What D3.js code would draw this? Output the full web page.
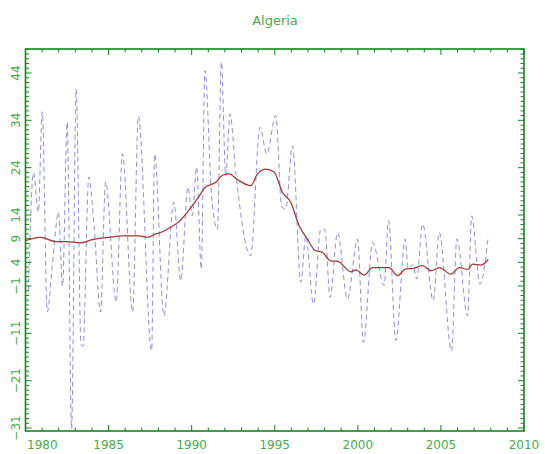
<!DOCTYPE html>
<html>
<head>
<meta charset="utf-8">
<script src="https://cdn.jsdelivr.net/npm/d3@7"></script>
<style>
  body { margin: 0; background: #fff; }
  svg { display: block; font-family: "DejaVu Sans", sans-serif; }
</style>
</head>
<body>
<svg id="chart" width="545" height="454"></svg>
<script>
const TITLE = "Algeria";

// blue dashed series (turning points)
const monthlyYears = [1980.18, 1980.48, 1980.77, 1981.01, 1981.31, 1981.61, 1981.99, 1982.23, 1982.51, 1982.77,
    1983.05, 1983.34, 1983.46, 1983.81, 1984.12, 1984.52, 1984.82, 1985.46, 1985.83, 1986.45,
    1986.79, 1987.59, 1987.77, 1988.33, 1988.93, 1989.34, 1989.78, 1990.04, 1990.30, 1990.58,
    1990.80, 1991.20, 1991.55, 1991.79, 1992.05, 1992.31, 1992.65, 1993.55, 1994.11, 1994.52,
    1995.06, 1995.42, 1995.66, 1996.07, 1996.57, 1996.87, 1997.33, 1997.77, 1998.01, 1998.33,
    1998.78, 1999.38, 1999.98, 2000.34, 2000.89, 2001.58, 2001.85, 2002.29, 2002.85, 2003.03,
    2003.31, 2003.54, 2003.90, 2004.54, 2004.90, 2005.64, 2005.96, 2006.61, 2006.85, 2007.35,
    2007.85];
const monthlyValues = [-2, 23, 14.6, 35.8, -6.5, 3.2, 14.6, -1, 33.6, -31.2,
    40.6, -13.4, -13.7, 22, 12, -6.5, 21, -4.4, 26.9, -6.5,
    34.9, -14.7, 26.9, -7.3, 16.7, 0.1, 19.9, 13.9, 24.1, 2.6,
    44.5, 18, 11, 46.3, 22.3, 35.3, 23.1, 5.4, 32.5, 26.9,
    35, 15.7, 15.3, 28.6, -0.2, 9.6, -4.8, 11, 11, -3.4,
    10.3, -3.8, 8.9, -12.9, 8.2, -0.9, 12.8, -12.5, 8.9, 2.6,
    3.5, 0.5, 12.1, -4.1, 10.3, -14.7, 8.9, -7.3, 13.8, -0.6,
    9.6];

// red smoothed series
const smoothYears = [1980.00, 1980.90, 1981.81, 1982.53, 1983.31, 1984.02, 1985.02, 1985.83, 1986.83, 1987.33,
    1987.83, 1988.13, 1988.73, 1989.23, 1989.74, 1990.34, 1990.84, 1991.45, 1991.85, 1992.25,
    1992.75, 1993.55, 1993.96, 1994.46, 1994.96, 1995.46, 1995.96, 1996.46, 1996.97, 1997.43,
    1997.87, 1998.37, 1998.80, 1999.58, 1999.88, 2000.38, 2000.89, 2001.89, 2002.39, 2002.89,
    2003.30, 2003.90, 2004.40, 2004.90, 2005.60, 2006.10, 2006.61, 2006.91, 2007.41, 2007.85];
const smoothValues = [8.6, 9.3, 8.4, 8.4, 8.1, 8.8, 9.3, 9.6, 9.6, 9.3,
    10.0, 10.3, 11.4, 12.6, 14.6, 17.4, 19.9, 20.9, 22.4, 22.7,
    21.5, 20.2, 22.7, 23.7, 23.1, 18.8, 16.7, 11.8, 8.9, 6.5,
    6.1, 4.3, 4.2, 2.0, 2.4, 1.3, 2.9, 2.9, 1.2, 2.6,
    2.7, 3.3, 2.2, 2.9, 1.5, 2.9, 2.5, 3.6, 3.4, 4.6];

const xTickLabels = [1980, 1985, 1990, 1995, 2000, 2005, 2010];
const yTickLabels = [44, 34, 24, 14, 9, 4, -1, -11, -21, -31];

const AXIS_GREEN = "#11881a";
const LABEL_GREEN = "#4aaa4a";

const svg = d3.select("#chart");

const box = { left: 25.5, right: 524, top: 49, bottom: 431 };

const xScale = d3.scaleLinear()
                 .domain([1980, 2010])
                 .range([box.left, box.right]);
const yScale = d3.scaleLinear()
                 .domain([-31.63, 49.07])
                 .range([box.bottom, box.top]);

const fmtMinus = (d) => (d < 0 ? "\u2212" + Math.abs(d) : "" + d);

// title
svg.append("text")
   .attr("x", 275)
   .attr("y", 25)
   .attr("text-anchor", "middle")
   .attr("fill", LABEL_GREEN)
   .style("font-size", "13px")
   .text(TITLE);

// frame ticks
const yearTicks = d3.range(1980, 2011);
const unitTicks = d3.range(-31, 50);

const ticks = svg.append("g")
                 .attr("stroke", AXIS_GREEN)
                 .attr("stroke-width", 1);

// bottom / top
yearTicks.forEach(yr => {
    const len = (yr % 5 === 0) ? 6 : 3.5;
    const x = xScale(yr);
    ticks.append("line").attr("x1", x).attr("x2", x)
         .attr("y1", box.bottom).attr("y2", box.bottom - len);
    ticks.append("line").attr("x1", x).attr("x2", x)
         .attr("y1", box.top).attr("y2", box.top + len);
});

// left / right
unitTicks.forEach(v => {
    const len = yTickLabels.includes(v) ? 6 : 3.5;
    const y = yScale(v);
    ticks.append("line").attr("x1", box.left).attr("x2", box.left + len)
         .attr("y1", y).attr("y2", y);
    ticks.append("line").attr("x1", box.right).attr("x2", box.right - len)
         .attr("y1", y).attr("y2", y);
});

// frame
svg.append("rect")
   .attr("x", box.left)
   .attr("y", box.top)
   .attr("width", box.right - box.left)
   .attr("height", box.bottom - box.top)
   .attr("fill", "none")
   .attr("stroke", AXIS_GREEN)
   .attr("stroke-width", 1.6);

// x labels
svg.append("g")
   .selectAll("text")
   .data(xTickLabels)
   .enter()
   .append("text")
   .attr("x", (d, i) => (i === 0) ? xScale(d) + 1.5 : xScale(d))
   .attr("y", 449)
   .attr("text-anchor", (d, i) => (i === 0) ? "start" : "middle")
   .attr("fill", LABEL_GREEN)
   .style("font-size", "12px")
   .text(d => d);

// y labels (rotated)
svg.append("g")
   .selectAll("text")
   .data(yTickLabels)
   .enter()
   .append("text")
   .attr("transform", d => "translate(20," + yScale(d) + ") rotate(-90)")
   .attr("text-anchor", "middle")
   .attr("fill", LABEL_GREEN)
   .style("font-size", "12px")
   .text(d => fmtMinus(d));

// lines
const line = d3.line()
               .x(d => xScale(d[0]))
               .y(d => yScale(d[1]))
               .curve(d3.curveMonotoneX);

const monthly = d3.zip(monthlyYears, monthlyValues);
const smooth = d3.zip(smoothYears, smoothValues);

svg.append("path")
   .datum(monthly)
   .attr("d", line)
   .attr("fill", "none")
   .attr("stroke", "#4646bf")
   .attr("stroke-opacity", 0.6)
   .attr("stroke-width", 1)
   .attr("stroke-dasharray", "5,3.5");

svg.append("path")
   .datum(smooth)
   .attr("d", line)
   .attr("fill", "none")
   .attr("stroke", "#a83434")
   .attr("stroke-width", 1.25);
</script>
</body>
</html>
